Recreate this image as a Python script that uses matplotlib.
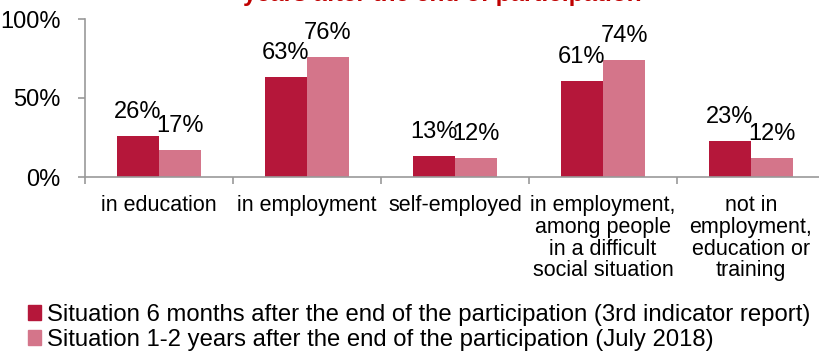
import numpy as np
import matplotlib.pyplot as plt
from matplotlib.patches import Patch

plt.rcParams['font.family'] = ['Liberation Sans', 'DejaVu Sans']

categories = ['in education', 'in employment', 'self-employed',
              'in employment,\namong people\nin a difficult\nsocial situation',
              'not in\nemployment,\neducation or\ntraining']
months6 = [26, 63, 13, 61, 23]
years12 = [17, 76, 12, 74, 12]
series_names = ['Situation 6 months after the end of the participation (3rd indicator report)',
                'Situation 1-2 years after the end of the participation (July 2018)']
title = 'years after the end of participation'

dark = '#B5173A'
light = '#D4758A'
grey = '#999999'

fig = plt.figure(figsize=(8.2, 3.51), dpi=100)
ax = fig.add_axes([85 / 820, 174 / 351, 740 / 820, 158 / 351])

x = np.arange(len(categories))
w = 0.284
b1 = ax.bar(x - w / 2, months6, w, color=dark)
b2 = ax.bar(x + w / 2, years12, w, color=light)

for bars, vals in ((b1, months6), (b2, years12)):
    for r, v in zip(bars, vals):
        ax.annotate(f'{v}%', (r.get_x() + r.get_width() / 2, v),
                    xytext=(0, 13), textcoords='offset points',
                    ha='center', va='baseline', fontsize=17)

ax.set_xlim(-0.5, len(categories) - 0.5)
ax.set_ylim(0, 100)
ax.set_yticks([0, 50, 100])
ax.set_yticklabels(['0%', '50%', '100%'])
ax.set_xticks(x)
ax.set_xticklabels(categories, linespacing=1.05)
ax.set_xticks(np.arange(-0.5, len(categories)), minor=True)
ax.tick_params(axis='x', which='major', length=0, pad=13, labelsize=15.5)
ax.tick_params(axis='x', which='minor', length=5, color=grey, width=1.2)
ax.tick_params(axis='y', length=5, color=grey, width=1.2, pad=12.5, labelsize=17)

for s in ['top', 'right']:
    ax.spines[s].set_visible(False)
for s in ['left', 'bottom']:
    ax.spines[s].set_color(grey)
    ax.spines[s].set_linewidth(1.2)

# title sits almost entirely above the canvas, as in the source image
fig.text(442 / 820, 1 - 1.5 / 351, title, ha='center', va='baseline',
         fontsize=17.5, fontweight='bold', color='#C00000')

handles = [Patch(color=dark), Patch(color=light)]
fig.legend(handles, series_names, loc='lower left', bbox_to_anchor=(28 / 820, 0.0),
           frameon=False, fontsize=17.2, handlelength=0.55, handleheight=0.55,
           handletextpad=0.25, labelspacing=0.12, borderaxespad=0, borderpad=0)

fig.savefig('out.png', dpi=100)
